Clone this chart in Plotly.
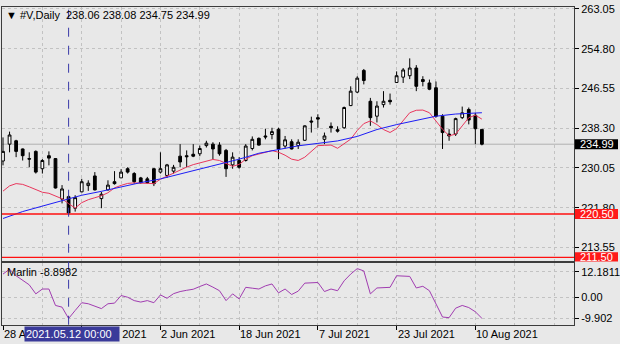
import plotly.graph_objects as go
from datetime import date

# ---------------- data ----------------
symbol = "#V,Daily"
dates = ["2021-04-28", "2021-04-29", "2021-04-30",
         "2021-05-03", "2021-05-04", "2021-05-05", "2021-05-06", "2021-05-07",
         "2021-05-10", "2021-05-11", "2021-05-12", "2021-05-13", "2021-05-14",
         "2021-05-17", "2021-05-18", "2021-05-19", "2021-05-20", "2021-05-21",
         "2021-05-24", "2021-05-25", "2021-05-26", "2021-05-27", "2021-05-28",
         "2021-06-01", "2021-06-02", "2021-06-03", "2021-06-04",
         "2021-06-07", "2021-06-08", "2021-06-09", "2021-06-10", "2021-06-11",
         "2021-06-14", "2021-06-15", "2021-06-16", "2021-06-17", "2021-06-18",
         "2021-06-21", "2021-06-22", "2021-06-23", "2021-06-24", "2021-06-25",
         "2021-06-28", "2021-06-29", "2021-06-30", "2021-07-01", "2021-07-02",
         "2021-07-06", "2021-07-07", "2021-07-08", "2021-07-09",
         "2021-07-12", "2021-07-13", "2021-07-14", "2021-07-15", "2021-07-16",
         "2021-07-19", "2021-07-20", "2021-07-21", "2021-07-22", "2021-07-23",
         "2021-07-26", "2021-07-27", "2021-07-28", "2021-07-29", "2021-07-30",
         "2021-08-02", "2021-08-03", "2021-08-04", "2021-08-05", "2021-08-06",
         "2021-08-09", "2021-08-10", "2021-08-11"]

opens = [231.5, 235.0, 235.7, 234.0, 232.0, 233.5, 229.9, 232.6, 232.0, 223.6,
         224.1, 221.7, 225.1, 226.4, 228.4, 223.7, 225.5, 227.2, 228.0, 229.9,
         228.9, 228.0, 227.8, 229.9, 229.2, 228.5, 229.4, 232.5, 232.6, 232.9,
         233.0, 234.7, 235.0, 234.8, 233.7, 230.7, 231.6, 231.6, 234.1, 236.2,
         236.7, 237.0, 238.1, 234.6, 235.5, 234.7, 235.8, 239.8, 240.5, 236.0,
         238.7, 238.0, 238.4, 243.0, 245.8, 250.3, 243.9, 240.8, 243.2, 244.1,
         247.8, 248.9, 249.2, 250.8, 248.4, 247.7, 246.7, 240.8, 237.1, 237.1,
         240.5, 242.2, 241.0, 238.06]
highs = [236.4, 237.6, 235.9, 234.1, 233.3, 233.7, 231.9, 233.5, 232.1, 226.5,
         224.4, 224.4, 227.8, 227.5, 229.2, 225.1, 227.5, 229.4, 229.8, 230.2,
         229.2, 228.2, 228.2, 230.0, 233.3, 230.9, 230.7, 235.0, 233.7, 235.0,
         234.7, 235.7, 235.4, 235.4, 234.0, 233.3, 232.3, 235.0, 236.6, 236.4,
         238.2, 238.4, 238.4, 236.7, 236.0, 236.0, 238.9, 240.7, 241.2, 237.4,
         239.5, 238.7, 242.8, 247.0, 249.1, 250.6, 244.6, 243.9, 246.0, 245.5,
         250.1, 250.8, 252.8, 251.4, 249.1, 248.4, 248.0, 241.2, 238.1, 240.5,
         242.8, 242.6, 241.5, 238.08]
lows = [230.6, 233.3, 232.3, 231.6, 230.2, 228.9, 228.9, 230.6, 225.8, 222.7,
        220.6, 221.0, 225.0, 225.3, 225.4, 221.7, 225.4, 226.6, 228.0, 228.9,
        226.8, 226.8, 226.8, 226.3, 228.9, 228.0, 228.9, 230.2, 230.2, 232.3,
        232.5, 234.3, 231.9, 232.6, 228.2, 229.9, 229.9, 231.4, 233.7, 234.7,
        236.0, 236.0, 231.9, 234.1, 233.9, 234.0, 235.7, 237.4, 238.4, 235.0,
        237.4, 237.4, 238.2, 242.9, 245.6, 247.4, 238.8, 239.5, 242.6, 243.2,
        247.7, 247.7, 248.5, 246.0, 247.0, 246.2, 240.5, 234.0, 235.7, 236.7,
        240.2, 239.1, 235.0, 234.75]
closes = [233.5, 236.9, 233.5, 232.6, 231.9, 229.2, 231.6, 232.1, 225.9, 225.7,
          220.7, 223.9, 227.2, 226.9, 225.5, 224.6, 226.5, 226.8, 229.2, 229.2,
          227.2, 227.0, 227.0, 226.8, 229.9, 230.7, 230.2, 231.3, 232.4, 232.5,
          234.1, 235.2, 234.0, 233.0, 229.9, 232.3, 230.2, 234.6, 236.0, 234.8,
          236.5, 237.6, 234.0, 235.9, 234.0, 235.4, 238.8, 239.6, 240.2, 236.7,
          238.4, 237.7, 242.6, 246.0, 248.7, 248.2, 240.5, 242.9, 243.9, 243.8,
          249.2, 250.4, 250.8, 247.0, 248.0, 246.4, 240.8, 237.4, 236.7, 240.3,
          241.5, 240.0, 238.2, 234.99]

ma_fast = [225.25, 226.34, 226.81, 226.65, 226.14, 225.52, 225.01, 224.80, 224.29, 223.67,
           222.65, 221.73, 222.85, 223.47, 223.88, 224.29, 224.91, 225.93, 226.44, 226.85,
           226.96, 226.96, 226.85, 226.81, 227.72, 228.39, 229.07, 229.62, 230.24, 230.75,
           231.12, 231.57, 231.82, 231.61, 230.92, 230.40, 230.80, 231.88, 232.60, 232.97,
           233.32, 233.66, 233.32, 232.70, 231.88, 231.61, 232.29, 233.52, 234.69, 234.75,
           234.81, 234.14, 235.16, 236.04, 237.83, 239.26, 239.82, 239.06, 238.03, 237.42,
           238.24, 239.88, 241.52, 242.03, 242.07, 241.52, 239.82, 238.09, 236.74, 237.07,
           238.79, 240.49, 241.01, 240.19]

ma_slow_idx = [0, 3, 6, 9, 12, 15, 18, 21, 24, 27, 30, 33, 36, 39, 42, 45, 48, 51,
               54, 57, 60, 63, 66, 69, 73]
ma_slow = [219.57, 221.01, 222.14, 223.26, 224.39, 225.21, 226.14, 227.02, 227.78,
           228.80, 229.83, 230.85, 231.88, 233.11, 233.93, 234.65, 235.16, 235.67,
           236.60, 238.03, 239.06, 239.98, 240.80, 241.25, 241.52]

marlin = [11.1, 13.4, 10.3, 8.2, 6.0, 1.7, 4.0, 4.0, -3.8, -4.6,
          -10.0, -6.2, -2.5, -3.0, -4.2, -5.3, -3.0, -2.7, 0.9, 0.1,
          -1.5, -2.2, -1.5, -2.5, 1.2, -0.4, 1.8, 2.8, 3.4, 3.9,
          5.2, 6.4, 4.9, 3.2, -1.5, 1.7, -0.7, 4.8, 4.4, 4.0,
          5.5, 6.4, 2.2, 4.0, 1.4, 3.0, 6.8, 7.1, 7.1, 2.8,
          4.0, 3.2, 7.9, 11.1, 13.7, 12.6, 1.7, 4.5, 4.7, 4.8,
          10.3, 10.2, 10.0, 4.5, 5.3, 3.2, -3.0, -9.3, -9.6, -5.1,
          -3.8, -4.8, -6.8, -9.9]
marlin_label_value = -8.8982

price_ticks = [263.05, 254.80, 246.55, 238.30, 230.05, 221.80, 213.55]
marlin_ticks = [12.1811, 0.0, -9.902]
marlin_tick_text = ["12.1811", "0.00", "-9.902"]
level_lines = [220.50, 211.50]
last_price = 234.99
label_idx = [0, 12, 24, 36, 48, 60, 72]
grid_idx = list(range(0, 90, 6))
cross_idx = 10

# ---------------- layout helpers ----------------
W, H = 620, 344
def fx(p):
    return p / W
def fy(p):
    return 1 - p / H

BG = "#e8e8e8"
GRID = "#c2c2c2"
FRAME = "#3c3c3c"
FONT = "Liberation Sans"
xs = list(range(len(dates)))
xr = [-0.152, 87.04]
xdom = [fx(2), fx(574)]
ydom_main = [fy(260.5), fy(3)]
ydom_low = [fy(324.5), fy(262.5)]
yr_main = [210.65, 263.47]
yr_low = [-12.96, 16.15]

fig = go.Figure()
fig.add_trace(go.Candlestick(
    x=xs, open=opens, high=highs, low=lows, close=closes,
    xaxis="x", yaxis="y", whiskerwidth=0, showlegend=False, hoverinfo="skip",
    increasing=dict(line=dict(color="black", width=1), fillcolor="white"),
    decreasing=dict(line=dict(color="black", width=1), fillcolor="black")))
fig.add_trace(go.Scatter(x=xs, y=ma_fast, mode="lines", xaxis="x", yaxis="y",
                         line=dict(color="#e8365c", width=1), showlegend=False, hoverinfo="skip"))
fig.add_trace(go.Scatter(x=ma_slow_idx, y=ma_slow, mode="lines", xaxis="x", yaxis="y",
                         line=dict(color="#1c1cf5", width=1), showlegend=False, hoverinfo="skip"))
fig.add_trace(go.Scatter(x=xs, y=marlin, mode="lines", xaxis="x2", yaxis="y2",
                         line=dict(color="#a03cb0", width=1), showlegend=False, hoverinfo="skip"))

common_x = dict(range=xr, domain=xdom, showticklabels=False, tickvals=label_idx,
                showgrid=True, gridcolor=GRID, griddash="dot", gridwidth=1,
                minor=dict(tickvals=grid_idx, showgrid=True, gridcolor=GRID, griddash="dot"),
                showline=True, mirror=True, linecolor=FRAME, linewidth=1,
                zeroline=False, fixedrange=True)
common_y = dict(side="right", showgrid=True, gridcolor=GRID, griddash="dot",
                showline=True, mirror=True, linecolor=FRAME, linewidth=1,
                ticks="outside", ticklen=4, tickcolor="black", zeroline=False,
                ticklabeloverflow="allow",
                tickfont=dict(family=FONT, size=11, color="black"), fixedrange=True)

shapes = []
for lv in level_lines:
    shapes.append(dict(type="line", xref="x domain", yref="y", x0=0, x1=1, y0=lv, y1=lv,
                       line=dict(color="#ff1010", width=1.4), layer="above"))
shapes.append(dict(type="line", xref="x domain", yref="y", x0=0, x1=1,
                   y0=last_price, y1=last_price, line=dict(color="#b0b0b0", width=1), layer="below"))
shapes.append(dict(type="line", xref="x", yref="paper", x0=cross_idx, x1=cross_idx,
                   y0=fy(324.5), y1=fy(3), line=dict(color="#3a3aa8", width=1, dash="dash"),
                   layer="above"))
annotations = []
# price boxes on the right scale
for val, col in [(last_price, "black")] + [(lv, "#ff1a1a") for lv in level_lines]:
    shapes.append(dict(type="rect", xref="paper", yref="y", x0=fx(575), x1=fx(618),
                       y0=val - 1.05, y1=val + 1.05, fillcolor=col, line=dict(width=0),
                       layer="above"))
    annotations.append(dict(x=fx(578), y=val, xref="paper", yref="y", xanchor="left",
                            yanchor="middle", text=f"{val:.2f}", showarrow=False,
                            font=dict(family=FONT, size=11, color="white")))

# header
hdr = (f"\u25BC {symbol}\u00a0\u00a0{opens[-1]:.2f} {highs[-1]:.2f} "
       f"{lows[-1]:.2f} {closes[-1]:.2f}")
annotations.append(dict(x=fx(4), y=fy(11), xref="paper", yref="paper", xanchor="left",
                        yanchor="middle", text=hdr, showarrow=False,
                        font=dict(family=FONT, size=11, color="black")))
annotations.append(dict(x=fx(5), y=fy(271), xref="paper", yref="paper", xanchor="left",
                        yanchor="middle", text=f"Marlin {marlin_label_value}", showarrow=False,
                        font=dict(family=FONT, size=11, color="black")))
# date labels
for i in label_idx:
    d = date.fromisoformat(dates[i])
    annotations.append(dict(x=i, y=fy(334), xref="x2", yref="paper", xanchor="left",
                            yanchor="middle", text=f"{d.day} {d.strftime('%b %Y')}",
                            showarrow=False, xshift=-1,
                            font=dict(family=FONT, size=11, color="black")))
cd = date.fromisoformat(dates[cross_idx])
annotations.append(dict(x=cross_idx, y=fy(334), xref="x2", yref="paper", xanchor="center",
                        yanchor="middle",
                        text=cd.strftime("%Y.%m.%d") + " 00:00\u00a0\u00a0",
                        showarrow=False, bgcolor="#3a3a9a", borderpad=1, xshift=3,
                        font=dict(family=FONT, size=11, color="white")))

fig.update_layout(
    width=W, height=H, margin=dict(l=0, r=0, t=0, b=0),
    paper_bgcolor=BG, plot_bgcolor=BG, showlegend=False, boxgap=0.4,
    xaxis=dict(anchor="y", ticks="", rangeslider=dict(visible=False), **common_x),
    xaxis2=dict(anchor="y2", ticks="outside", ticklen=4, tickcolor="black", **common_x),
    yaxis=dict(anchor="x", domain=ydom_main, range=yr_main, tickvals=price_ticks,
               ticktext=[f"{v:.2f}" for v in price_ticks], **common_y),
    yaxis2=dict(anchor="x2", domain=ydom_low, range=yr_low, tickvals=marlin_ticks,
                ticktext=marlin_tick_text, **common_y),
    shapes=shapes, annotations=annotations,
)
fig.write_html("out.html")
